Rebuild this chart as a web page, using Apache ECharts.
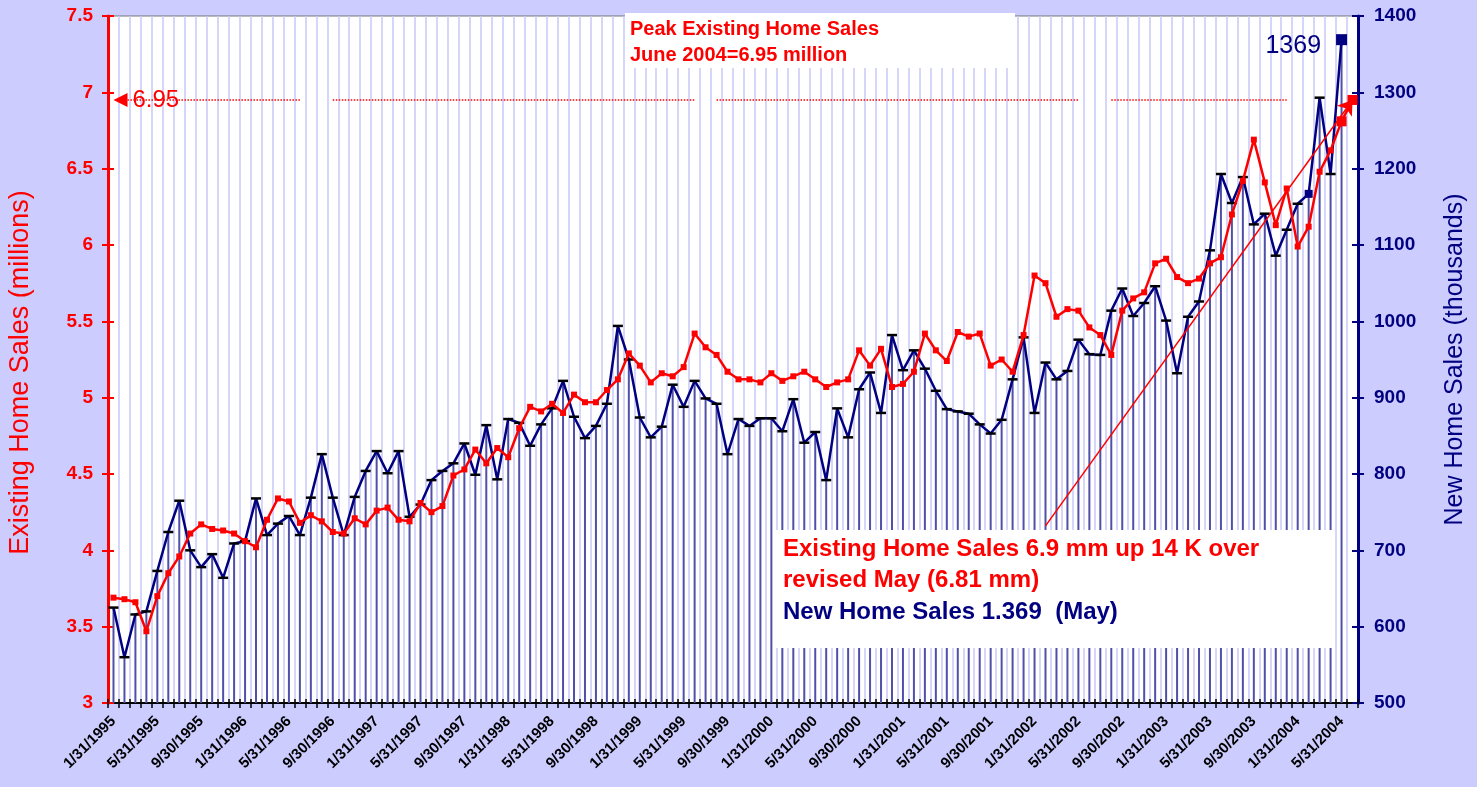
<!DOCTYPE html>
<html><head><meta charset="utf-8">
<script src="https://cdn.jsdelivr.net/npm/echarts@6/dist/echarts.min.js"></script>
<style>html,body{margin:0;padding:0;background:#ccccff;}#chart{width:1477px;height:787px;}</style>
</head><body><div id="chart"></div>
<script>
const categories = [
"1/31/1995","2/28/1995","3/31/1995","4/30/1995","5/31/1995","6/30/1995","7/31/1995","8/31/1995","9/30/1995","10/31/1995","11/30/1995","12/31/1995",
"1/31/1996","2/29/1996","3/31/1996","4/30/1996","5/31/1996","6/30/1996","7/31/1996","8/31/1996","9/30/1996","10/31/1996","11/30/1996","12/31/1996",
"1/31/1997","2/28/1997","3/31/1997","4/30/1997","5/31/1997","6/30/1997","7/31/1997","8/31/1997","9/30/1997","10/31/1997","11/30/1997","12/31/1997",
"1/31/1998","2/28/1998","3/31/1998","4/30/1998","5/31/1998","6/30/1998","7/31/1998","8/31/1998","9/30/1998","10/31/1998","11/30/1998","12/31/1998",
"1/31/1999","2/28/1999","3/31/1999","4/30/1999","5/31/1999","6/30/1999","7/31/1999","8/31/1999","9/30/1999","10/31/1999","11/30/1999","12/31/1999",
"1/31/2000","2/29/2000","3/31/2000","4/30/2000","5/31/2000","6/30/2000","7/31/2000","8/31/2000","9/30/2000","10/31/2000","11/30/2000","12/31/2000",
"1/31/2001","2/28/2001","3/31/2001","4/30/2001","5/31/2001","6/30/2001","7/31/2001","8/31/2001","9/30/2001","10/31/2001","11/30/2001","12/31/2001",
"1/31/2002","2/28/2002","3/31/2002","4/30/2002","5/31/2002","6/30/2002","7/31/2002","8/31/2002","9/30/2002","10/31/2002","11/30/2002","12/31/2002",
"1/31/2003","2/28/2003","3/31/2003","4/30/2003","5/31/2003","6/30/2003","7/31/2003","8/31/2003","9/30/2003","10/31/2003","11/30/2003","12/31/2003",
"1/31/2004","2/29/2004","3/31/2004","4/30/2004","5/31/2004","6/30/2004"
];
// Existing home sales, millions (Jan 1995 - Jun 2004)
const existingSales = [
3.69,3.68,3.66,3.47,3.70,3.85,3.96,4.11,4.17,4.14,4.13,4.11,
4.06,4.02,4.20,4.34,4.32,4.18,4.23,4.19,4.12,4.11,4.21,4.17,
4.26,4.28,4.20,4.19,4.31,4.25,4.29,4.49,4.53,4.66,4.57,4.67,
4.61,4.80,4.94,4.91,4.96,4.90,5.02,4.97,4.97,5.05,5.12,5.29,
5.21,5.10,5.16,5.14,5.20,5.42,5.33,5.28,5.17,5.12,5.12,5.10,
5.16,5.11,5.14,5.17,5.12,5.07,5.10,5.12,5.31,5.21,5.32,5.07,
5.09,5.17,5.42,5.31,5.24,5.43,5.40,5.42,5.21,5.25,5.17,5.41,
5.80,5.75,5.53,5.58,5.57,5.46,5.41,5.28,5.57,5.65,5.69,5.88,
5.91,5.79,5.75,5.78,5.88,5.92,6.20,6.42,6.69,6.41,6.13,6.37,
5.99,6.12,6.48,6.62,6.81,6.95
];
// New home sales, thousands (Jan 1995 - May 2004)
const newSales = [
625,560,616,620,673,724,765,700,678,695,664,709,
712,768,720,735,745,720,769,826,769,720,770,804,
830,801,830,744,760,792,804,814,840,799,864,793,
872,867,837,865,886,922,875,847,863,892,994,950,
874,848,862,917,888,922,899,892,826,872,863,873,
873,856,898,841,855,792,886,848,911,933,880,982,
936,962,938,909,885,882,879,865,853,871,924,979,
880,946,924,935,976,957,956,1014,1043,1007,1024,1046,
1001,932,1006,1026,1093,1193,1155,1189,1127,1141,1086,1120,
1154,1167,1293,1193,1369
];
const leftTicks = {min: 3, max: 7.5, interval: 0.5};
const rightTicks = {min: 500, max: 1400, interval: 100};
const peakExisting = 6.95;
const titleLines = ["Peak Existing Home Sales", "June 2004=6.95 million"];
const noteLines = ["Existing Home Sales 6.9 mm up 14 K over", "revised May (6.81 mm)", "New Home Sales 1.369  (May)"];
const peakLineSegments = [[1,17],[20,53],[55,88],[91,107]];
const arrowStart = [85, 4.16];

const RED = '#ff0000', NAVY = '#000080';
const FONT = 'Liberation Sans, Arial, sans-serif';

const lastNew = newSales.length - 1;
const newData = newSales.map((v, i) => {
  if (i === lastNew) return {value: v, symbol: 'rect', symbolSize: 11, itemStyle: {color: NAVY},
    label: {show: true, position: 'left', distance: 15, offset: [0, 6], formatter: '{c}', color: NAVY, fontSize: 25, fontFamily: FONT}};
  if (i === lastNew - 3) return {value: v, symbol: 'rect', symbolSize: 8, itemStyle: {color: NAVY}};
  return v;
});
const lastEx = existingSales.length - 1;
const exData = existingSales.map((v, i) => (i >= lastEx - 1) ? {value: v, symbolSize: 10} : v);

const chart = echarts.init(document.getElementById('chart'));
chart.setOption({
  animation: false,
  backgroundColor: '#ccccff',
  textStyle: {fontFamily: FONT},
  grid: {left: 108, right: 119, top: 16, bottom: 84, containLabel: false, outerBoundsMode: 'none',
    show: true, backgroundColor: '#ffffff', borderColor: '#777', borderWidth: 1},
  xAxis: [{
    type: 'category', data: categories, boundaryGap: true,
    axisLine: {lineStyle: {color: '#000', width: 2}},
    axisTick: {show: true, interval: 0, length: 5, lineStyle: {color: '#000', width: 1.5}},
    axisLabel: {interval: 3, rotate: 45, fontWeight: 'bold', fontSize: 15, color: '#000', margin: 16, fontFamily: FONT},
    splitLine: {show: true, interval: 0, lineStyle: {color: '#c8c8f8', width: 1.5}}
  }, {
    type: 'category', data: categories, boundaryGap: true, position: 'bottom',
    axisLine: {show: false}, axisLabel: {show: false}, splitLine: {show: false},
    axisTick: {show: true, inside: true, interval: 0, length: 4, lineStyle: {color: '#000', width: 1.5}}
  }],
  yAxis: [{
    type: 'value', position: 'left', min: leftTicks.min, max: leftTicks.max, interval: leftTicks.interval,
    axisLine: {show: true, lineStyle: {color: RED, width: 3}},
    axisTick: {show: true, length: 6, lineStyle: {color: RED, width: 2}},
    axisLabel: {color: RED, fontWeight: 'bold', fontSize: 19, margin: 15, fontFamily: FONT, formatter: v => String(v)},
    splitLine: {show: false},
    name: 'Existing Home Sales (millions)', nameLocation: 'middle', nameGap: 74,
    nameTextStyle: {color: RED, fontSize: 27, fontFamily: FONT, padding: [0, 26, 0, 0]}
  }, {
    type: 'value', position: 'right', min: rightTicks.min, max: rightTicks.max, interval: rightTicks.interval,
    axisLine: {show: true, lineStyle: {color: NAVY, width: 3}},
    axisTick: {show: true, length: 6, lineStyle: {color: NAVY, width: 2}},
    axisLabel: {color: NAVY, fontWeight: 'bold', fontSize: 19, margin: 16, fontFamily: FONT, formatter: v => String(v)},
    splitLine: {show: false},
    name: 'New Home Sales (thousands)', nameLocation: 'middle', nameGap: 85,
    nameTextStyle: {color: NAVY, fontSize: 25, fontFamily: FONT}
  }, {
    type: 'value', position: 'left', min: leftTicks.min, max: leftTicks.max, interval: leftTicks.interval,
    axisLine: {show: false}, axisLabel: {show: false}, splitLine: {show: false},
    axisTick: {show: true, inside: true, length: 6, lineStyle: {color: RED, width: 2}}
  }, {
    type: 'value', position: 'right', min: rightTicks.min, max: rightTicks.max, interval: rightTicks.interval,
    axisLine: {show: false}, axisLabel: {show: false}, splitLine: {show: false},
    axisTick: {show: true, inside: true, length: 6, lineStyle: {color: NAVY, width: 2}}
  }],
  series: [{
    type: 'bar', name: 'drop', yAxisIndex: 1, data: newSales, barWidth: 2, silent: true,
    itemStyle: {color: '#5050aa'}, z: 1
  }, {
    type: 'line', name: 'New Home Sales', yAxisIndex: 1, data: newData,
    symbol: 'rect', symbolSize: [10, 2.5], showAllSymbol: true,
    lineStyle: {color: NAVY, width: 2.5}, itemStyle: {color: '#000000'}, z: 3
  }, {
    type: 'line', name: 'Existing Home Sales', yAxisIndex: 0, data: exData,
    symbol: 'rect', symbolSize: 6, showAllSymbol: true,
    lineStyle: {color: RED, width: 2.5}, itemStyle: {color: RED}, z: 4,
    markLine: {
      silent: true, animation: false,
      data: peakLineSegments.map(s => [
        {coord: [s[0], peakExisting], symbol: 'none', lineStyle: {type: 'dotted', color: RED, width: 1.5}},
        {coord: [s[1], peakExisting], symbol: 'none'}
      ]).concat([[
        {coord: arrowStart, symbol: 'none', lineStyle: {type: 'solid', color: RED, width: 1.5}},
        {coord: [lastEx, existingSales[lastEx]], symbol: 'arrow', symbolSize: 14}
      ]]),
      label: {show: false}
    },
    markPoint: {
      silent: true,
      data: [{coord: [0, peakExisting], value: peakExisting, symbol: 'triangle', symbolRotate: 90, symbolSize: 14, symbolOffset: [7, 0],
        itemStyle: {color: RED},
        label: {show: true, position: 'right', distance: 5, formatter: '{c}', color: RED, fontSize: 24, fontFamily: FONT}}]
    }
  }],
  graphic: [
    {type: 'rect', z: 100, shape: {x: 625, y: 13, width: 390, height: 55}, style: {fill: '#ffffff'}},
    {type: 'text', z: 101, x: 630, y: 29, style: {text: titleLines[0], fill: RED, font: 'bold 20px ' + FONT, verticalAlign: 'middle'}},
    {type: 'text', z: 101, x: 630, y: 55, style: {text: titleLines[1], fill: RED, font: 'bold 20px ' + FONT, verticalAlign: 'middle'}},
    {type: 'rect', z: 100, shape: {x: 776, y: 530, width: 557, height: 118}, style: {fill: '#ffffff'}},
    {type: 'text', z: 101, x: 783, y: 549, style: {text: noteLines[0], fill: RED, font: 'bold 24px ' + FONT, verticalAlign: 'middle'}},
    {type: 'text', z: 101, x: 783, y: 580, style: {text: noteLines[1], fill: RED, font: 'bold 24px ' + FONT, verticalAlign: 'middle'}},
    {type: 'text', z: 101, x: 783, y: 612, style: {text: noteLines[2], fill: NAVY, font: 'bold 24px ' + FONT, verticalAlign: 'middle'}}
  ]
});
</script></body></html>
